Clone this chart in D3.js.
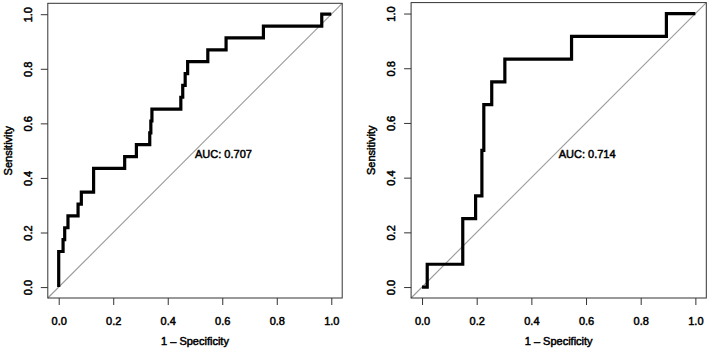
<!DOCTYPE html>
<html>
<head>
<meta charset="utf-8">
<script src="https://cdn.jsdelivr.net/npm/d3@7"></script>
<style>
  html, body { margin: 0; padding: 0; background: #fff; }
  svg { display: block; }
  text { font-family: "Liberation Sans", Arial, Helvetica, sans-serif; font-size: 11px; fill: #000; stroke: #000; stroke-width: 0.5px; }
</style>
</head>
<body>
<svg id="chart" width="709" height="349"></svg>
<script>
// ---- data ----
const tickValues = [0.0, 0.2, 0.4, 0.6, 0.8, 1.0];
const xTitle = "1 \u2013 Specificity";
const yTitle = "Sensitivity";

// Left ROC (1 - specificity, sensitivity), corner points of the step curve
const leftFpr  = [0, 0, 0.016, 0.022, 0.034, 0.071, 0.083, 0.128, 0.242, 0.285, 0.334, 0.338, 0.342, 0.448, 0.455, 0.464, 0.473, 0.547, 0.614, 0.751, 0.965, 1.0];
const leftSens = [0, 3/23, 4/23, 5/23, 6/23, 7/23, 8/23, 10/23, 11/23, 12/23, 13/23, 14/23, 15/23, 16/23, 17/23, 18/23, 19/23, 20/23, 21/23, 22/23, 1, 1];
const leftAuc = "AUC: 0.707";

// Right ROC
const rightFpr  = [0, 0.019, 0.149, 0.196, 0.219, 0.226, 0.255, 0.303, 0.547, 0.894, 1.0];
const rightSens = [0, 1/12, 3/12, 4/12, 6/12, 8/12, 9/12, 10/12, 11/12, 1, 1];
const rightAuc = "AUC: 0.714";

// ---- layout ----
const panels = [
  { fpr: leftFpr, sens: leftSens, auc: leftAuc, x0: 47.8, x1: 342.2, y0: 298, y1: 3.3 },
  { fpr: rightFpr, sens: rightSens, auc: rightAuc, x0: 411.1, x1: 706.3, y0: 298, y1: 2.6 }
];

const svg = d3.select("#chart");

panels.forEach(p => {
  const x = d3.scaleLinear().domain([-0.04, 1.04]).range([p.x0, p.x1]);
  const y = d3.scaleLinear().domain([-0.04, 1.04]).range([p.y0, p.y1]);
  const g = svg.append("g");

  // diagonal reference
  g.append("line")
    .attr("x1", x(-0.04)).attr("y1", y(-0.04))
    .attr("x2", x(1.04)).attr("y2", y(1.04))
    .attr("stroke", "#9a9a9a").attr("stroke-width", 1.1);

  // ROC curve
  const pts = p.fpr.map((f, i) => [f, p.sens[i]]);
  g.append("path")
    .datum(pts)
    .attr("fill", "none")
    .attr("stroke", "#000")
    .attr("stroke-width", 3.2)
    .attr("stroke-linejoin", "miter")
    .attr("d", d3.line().x(d => x(d[0])).y(d => y(d[1])).curve(d3.curveStepAfter));

  // box
  g.append("rect")
    .attr("x", p.x0).attr("y", p.y1)
    .attr("width", p.x1 - p.x0).attr("height", p.y0 - p.y1)
    .attr("fill", "none").attr("stroke", "#333").attr("stroke-width", 1);

  // x axis
  const xa = g.append("g").attr("transform", `translate(0,${p.y0})`)
    .call(d3.axisBottom(x).tickValues(tickValues).tickSize(7).tickFormat(d3.format(".1f")));
  xa.select(".domain").remove();
  xa.selectAll("line").attr("stroke", "#333");
  xa.selectAll("text").attr("y", 27).attr("dy", null);

  // y axis
  const ya = g.append("g").attr("transform", `translate(${p.x0},0)`)
    .call(d3.axisLeft(y).tickValues(tickValues).tickSize(7).tickFormat(d3.format(".1f")));
  ya.select(".domain").remove();
  ya.selectAll("line").attr("stroke", "#333");
  ya.selectAll("text")
    .attr("x", null).attr("dy", null)
    .attr("text-anchor", "middle")
    .attr("transform", "translate(-16,0) rotate(-90)");
  xa.attr("font-size", null).attr("font-family", null);
  ya.attr("font-size", null).attr("font-family", null);

  // titles
  g.append("text")
    .attr("x", x(0.5)).attr("y", 345)
    .attr("text-anchor", "middle")
    .text(xTitle);
  g.append("text")
    .attr("transform", `translate(${p.x0 - 36},${y(0.5)}) rotate(-90)`)
    .attr("text-anchor", "middle")
    .text(yTitle);

  // AUC label
  g.append("text")
    .attr("x", x(0.5)).attr("y", y(0.5) + 7.5)
    .text(p.auc);
});
</script>
</body>
</html>
